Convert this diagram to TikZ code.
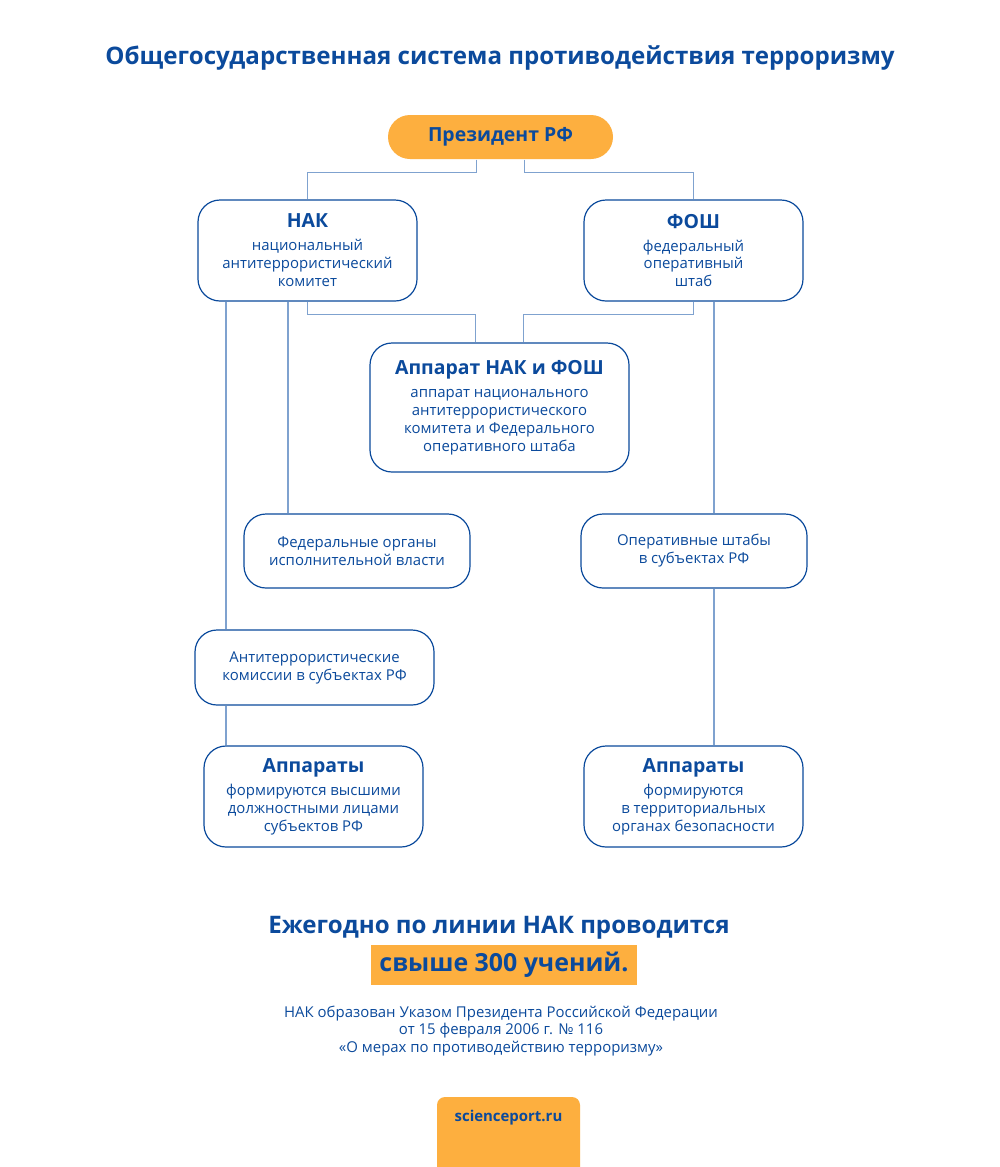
\documentclass[tikz,border=0pt]{standalone}
\usepackage{fontspec}
\setmainfont{Open Sans}
\usetikzlibrary{calc}
\definecolor{nakblue}{HTML}{0B4A9C}
\definecolor{linkblue}{HTML}{7FA2CF}
\definecolor{accent}{HTML}{FDAF3F}
\tikzset{box/.style={
    draw=nakblue, line width=1.2bp, rounded corners=22bp, fill=white,
    align=center, text=nakblue, inner sep=0pt,
    font=\fontsize{15}{18}\selectfont
  },
  wide/.style={box, minimum width=219bp, minimum height=101bp},
  flat/.style={box, minimum width=226bp, minimum height=74bp},
  link/.style={draw=linkblue, line width=1.6bp},
  bigtext/.style={text=nakblue, font=\fontsize{24.2}{28}\selectfont\bfseries, anchor=base}
}
\newcommand{\boxhead}[1]{{\fontsize{19.5}{22}\selectfont\bfseries #1}\\[5bp]}

\begin{document}
\begin{tikzpicture}[x=1bp,y=-1bp]
    \useasboundingbox[fill=white] (0,0) rectangle (1000,1167);

    % heading
    \node[bigtext] (title) at (500,64) {Общегосударственная система противодействия терроризму};

    % top level
    \node[box, draw=none, fill=accent, rounded corners=22bp, minimum width=225bp, minimum height=44bp,
      font=\fontsize{19.5}{22}\selectfont\bfseries] (pres) at (500.5,137) {Президент РФ};

    \node[wide] (nak) at (307.5,250.5) {\boxhead{НАК}национальный\\антитеррористический\\комитет};
    \node[wide] (fosh) at (693.5,250.5) {\boxhead{ФОШ}федеральный\\оперативный\\штаб};
    \node[box, minimum width=259bp, minimum height=129bp] (app) at (499.5,407.5)
      {\boxhead{Аппарат НАК и ФОШ}аппарат национального\\антитеррористического\\комитета и Федерального\\оперативного штаба};

    % regional level
    \node[flat] (fed) at (357,551) {Федеральные органы\\исполнительной власти};
    \node[flat] (ops) at (694,551) {Оперативные штабы\\в субъектах РФ};
    \node[box, minimum width=239bp, minimum height=75bp] (atc) at (314.5,667.5)
      {Антитеррористические\\комиссии в субъектах РФ};
    \node[wide] (apl) at (313.5,796.5) {\boxhead{Аппараты}формируются высшими\\должностными лицами\\субъектов РФ};
    \node[wide] (apr) at (693.5,796.5) {\boxhead{Аппараты}формируются\\в территориальных\\органах безопасности};

    % connectors
    \draw[link] ([xshift=-24bp]pres.south) -- ++(0,13) -| (nak.north);
    \draw[link] ([xshift=24bp]pres.south) -- ++(0,13) -| (fosh.north);
    \draw[link] (nak.south) -- ++(0,13) -| ([xshift=-24bp]app.north);
    \draw[link] (fosh.south) -- ++(0,13) -| ([xshift=24bp]app.north);

    \coordinate (nakA) at ([xshift=-81.5bp]nak.south);
    \coordinate (nakF) at ([xshift=-19.5bp]nak.south);
    \coordinate (foshO) at ([xshift=20.5bp]fosh.south);
    \draw[link] (nakA) -- (nakA |- atc.north);
    \draw[link] (nakF) -- (nakF |- fed.north);
    \draw[link] (foshO) -- (foshO |- ops.north);
    \draw[link] (foshO |- ops.south) -- (foshO |- apr.north);
    \draw[link] (nakA |- atc.south) -- (nakA |- apl.north);

    % summary
    \node[bigtext] (yearly) at (499,933) {Ежегодно по линии НАК проводится};
    \node[fill=accent, text=nakblue, minimum width=266bp, minimum height=40bp, inner sep=0pt,
      font=\fontsize{25}{30}\selectfont\bfseries] (count) at (504,965) {свыше 300 учений.};
    \node[text=nakblue, align=center, font=\fontsize{15}{18}\selectfont] (note) at (501,1031)
      {НАК образован Указом Президента Российской Федерации\\от 15 февраля 2006 г. № 116\\«О мерах по противодействию терроризму»};

    % footer
    \fill[accent, rounded corners=8bp] (437,1097) rectangle (580,1200);
    \node[text=nakblue, font=\fontsize{15}{18}\selectfont\bfseries, anchor=base] (site) at (508.5,1121) {scienceport.ru};
\end{tikzpicture}
\end{document}
